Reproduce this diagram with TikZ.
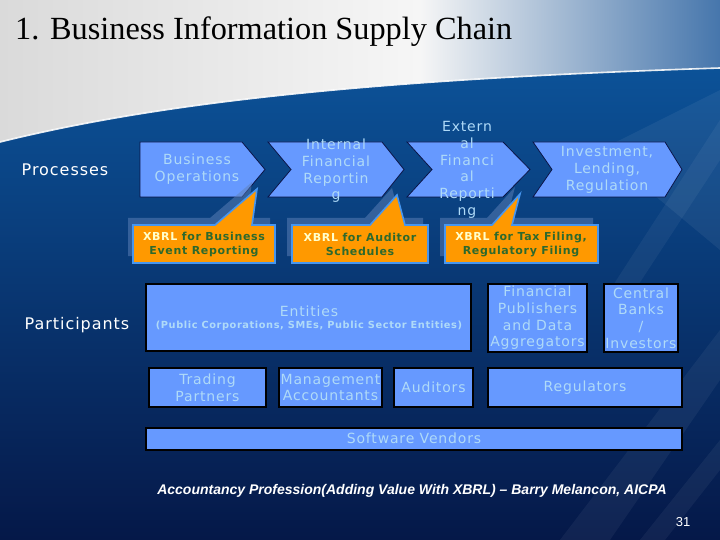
\documentclass[tikz,border=0pt]{standalone}
\usepackage{fontspec}
\setmainfont{DejaVu Sans}
\newfontfamily\vf[LetterSpace=6]{DejaVu Sans}
\newfontfamily\titlefont{Liberation Serif}
\newfontfamily\citefont{Liberation Sans}
\definecolor{chevfill}{RGB}{102,153,255}
\definecolor{navyline}{RGB}{10,20,70}
\definecolor{txtblue}{RGB}{175,218,248}
\definecolor{calor}{RGB}{255,153,0}
\definecolor{callborder}{RGB}{70,150,240}
\definecolor{shadowc}{RGB}{95,130,185}
\definecolor{calgreen}{RGB}{45,105,45}
\definecolor{xbrlc}{RGB}{255,255,204}
\definecolor{bgtop}{RGB}{12,82,152}
\definecolor{bgbot}{RGB}{5,24,72}
\definecolor{skyg}{RGB}{218,218,218}
\definecolor{skyw}{RGB}{246,246,246}
\definecolor{skyb}{RGB}{70,118,172}
\tikzset{
  chev/.style={fill=chevfill, draw=navyline, line width=0.8pt},
  chevtxt/.style={text=txtblue, font=\vf\fontsize{14}{16.7}\selectfont, align=center, inner sep=0pt},
  callout/.style={fill=calor, draw=callborder, line width=1.6pt, line join=miter},
  cshadow/.style={fill=shadowc, fill opacity=0.5},
  ctxt/.style={text=calgreen, font=\vf\bfseries\fontsize{11}{14.5}\selectfont, align=center, inner sep=0pt},
  pbox/.style={fill=chevfill, draw=black, line width=2pt, inner sep=0pt},
  ptxt/.style={text=txtblue, font=\vf\fontsize{14}{16.7}\selectfont, align=center, inner sep=0pt},
  rowlabel/.style={text=white, font=\vf\fontsize{16}{18}\selectfont, inner sep=0pt},
}
\begin{document}
\begin{tikzpicture}[x=1pt,y=-1pt]
\useasboundingbox (0,0) rectangle (720,540);
% sky
\fill[left color=skyg, right color=skyw] (0,0) rectangle (420,150);
\fill[left color=skyw, right color=skyb] (420,0) rectangle (720,150);
% blue background
\fill[top color=bgtop, bottom color=bgbot] (0,142) .. controls (150,105) and (350,80) .. (720,68) -- (720,540) -- (0,540) -- cycle;
\fill[white, opacity=0.05] (560,540) -- (720,330) -- (720,380) -- (610,540) -- cycle;
\fill[white, opacity=0.05] (640,540) -- (720,440) -- (720,470) -- (665,540) -- cycle;
\fill[white, opacity=0.06] (600,150) -- (720,90) -- (720,250) -- cycle;
\fill[white, opacity=0.05] (610,290) -- (720,120) -- (720,160) -- (635,290) -- cycle;
\draw[white, line width=1.6pt, opacity=0.9] (0,142) .. controls (150,105) and (350,80) .. (720,68);
% title
\node[anchor=base west, inner sep=0pt, font=\titlefont\fontsize{32.3}{36}\selectfont, text=black] (title) at (15,40) {1. Business Information Supply Chain};
% row labels
\node[rowlabel] (proc) at (65,170) {Processes};
\node[rowlabel] (part) at (77,325) {Participants};
% chevrons
\draw[chev] (140,142) -- (242,142) -- (265,169.5) -- (242,197) -- (140,197) -- cycle;
\draw[chev] (268,142) -- (382,142) -- (404,169.5) -- (382,197) -- (268,197) -- (291,169.5) -- cycle;
\draw[chev] (407,142) -- (503,142) -- (530,169.5) -- (503,197) -- (407,197) -- (432,169.5) -- cycle;
\draw[chev] (533,142) -- (665,142) -- (682,169.5) -- (665,197) -- (533,197) -- (552,169.5) -- cycle;
% callout shadows
\begin{scope}[shift={(-5,-7)}]
\fill[cshadow] (133,225) -- (215,225) -- (257,189) -- (252,225) -- (275,225) -- (275,263) -- (133,263) -- cycle;
\fill[cshadow] (292,225) -- (370,225) -- (397,195) -- (405,225) -- (428,225) -- (428,263) -- (292,263) -- cycle;
\fill[cshadow] (445,225) -- (492,225) -- (520,194) -- (512,225) -- (598,225) -- (598,263) -- (445,263) -- cycle;
\end{scope}
% callouts
\draw[callout] (133,225) -- (215,225) -- (257,189) -- (252,225) -- (275,225) -- (275,263) -- (133,263) -- cycle;
\draw[callout] (292,225) -- (370,225) -- (397,195) -- (405,225) -- (428,225) -- (428,263) -- (292,263) -- cycle;
\draw[callout] (445,225) -- (492,225) -- (520,194) -- (512,225) -- (598,225) -- (598,263) -- (445,263) -- cycle;
% chevron texts
\node[chevtxt] (bo) at (197,169) {Business\\Operations};
\node[chevtxt] (ifr) at (336,171) {Internal\\Financial\\Reportin\\g};
\node[chevtxt] (efr) at (467,170) {Extern\\al\\Financi\\al\\Reporti\\ng};
\node[chevtxt] (ilr) at (607,170) {Investment,\\Lending,\\Regulation};
% callout texts
\node[ctxt] (c1) at (204,244.5) {{\color{xbrlc}XBRL} for Business\\Event Reporting};
\node[ctxt] (c2) at (360,244.5) {{\color{xbrlc}XBRL} for Auditor\\Schedules};
\node[ctxt] (c3) at (521,244.5) {{\color{xbrlc}XBRL} for Tax Filing,\\Regulatory Filing};
% participant boxes
\node[pbox, minimum width=325pt, minimum height=67pt] (ent) at (308.5,317.5) {};
\node[pbox, minimum width=117pt, minimum height=39pt] (trade) at (207.5,387.5) {};
\node[pbox, minimum width=103pt, minimum height=39pt] (mgmt) at (330.5,387.5) {};
\node[pbox, minimum width=79pt, minimum height=39pt] (aud) at (433.5,387.5) {};
\node[pbox, minimum width=99pt, minimum height=68pt] (fin) at (537.5,318) {};
\node[pbox, minimum width=74pt, minimum height=68pt] (cb) at (641,318) {};
\node[pbox, minimum width=194pt, minimum height=39pt] (reg) at (585,387.5) {};
\node[pbox, minimum width=536pt, minimum height=22pt] (sw) at (414,438.5) {};
% participant texts
\node[ptxt] (entT) at (309,311) {Entities};
\node[ptxt, font=\vf\bfseries\fontsize{9.8}{12}\selectfont] (entS) at (309,326) {(Public Corporations, SMEs, Public Sector Entities)};
\node[ptxt] (tradeT) at (trade) {Trading\\Partners};
\node[ptxt] (mgmtT) at (mgmt) {Management\\Accountants};
\node[ptxt] (audT) at (aud) {Auditors};
\node[ptxt] (finT) at (fin) {Financial\\Publishers\\and Data\\Aggregators};
\node[ptxt] (cbT) at (cb) {Central\\Banks\\/\\Investors};
\node[ptxt] (regT) at (reg) {Regulators};
\node[ptxt] (swT) at (sw) {Software Vendors};
% citation and page number
\node[text=white, inner sep=0pt, font=\citefont\bfseries\itshape\fontsize{14}{16}\selectfont] (cite) at (412,491) {Accountancy Profession(Adding Value With XBRL) – Barry Melancon, AICPA};
\node[text=white, inner sep=0pt, font=\citefont\fontsize{13}{15}\selectfont] (pg) at (683,522) {31};
\end{tikzpicture}
\end{document}
